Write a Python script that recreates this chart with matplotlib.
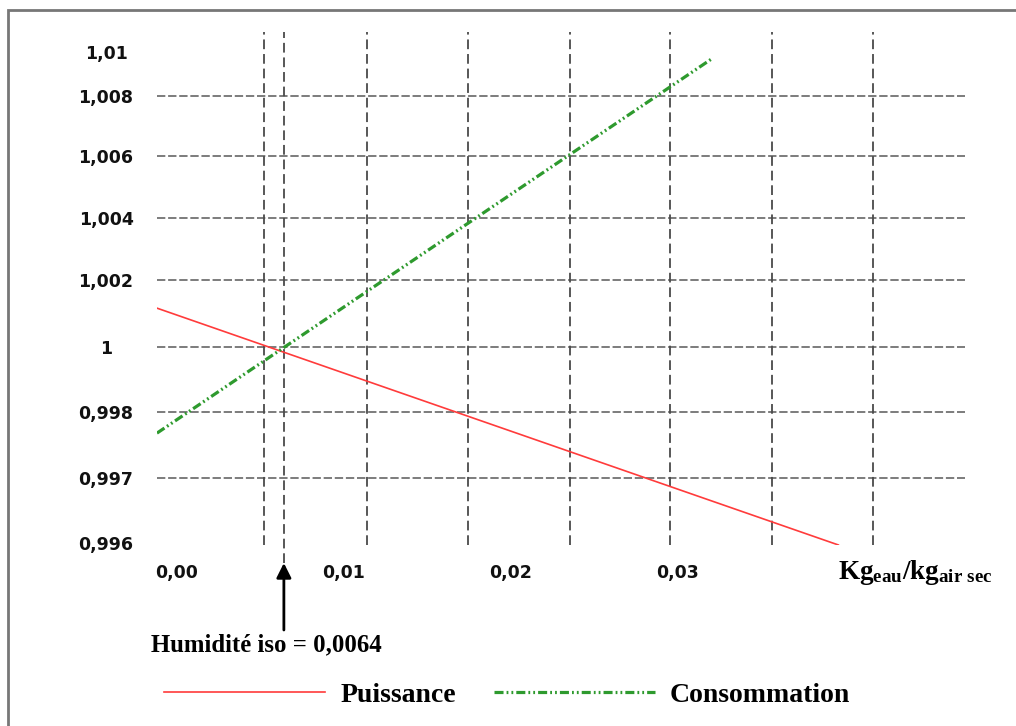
import numpy as np
import matplotlib
matplotlib.use('Agg')
import matplotlib.pyplot as plt
from matplotlib.patches import Rectangle

# data
humidite_iso = 0.0064
puissance_x = [-0.0012, 0.0396]
puissance_y = [1.00116, 0.99597]
consommation_x = [-0.0012, 0.0321]
consommation_y = [0.99768, 1.00973]

x_ticks = [0.00, 0.01, 0.02, 0.03]
x_labels = ['0,00', '0,01', '0,02', '0,03']
y_ticks = [0.996, 0.997, 0.998, 1.000, 1.002, 1.004, 1.006, 1.008, 1.01]
y_labels = ['0,996', '0,997', '0,998', '1', '1,002', '1,004', '1,006', '1,008', '1,01']

# the y axis of the original is not linear: tick spacing is even on screen
y_pos = [2, 67, 133, 198, 265, 327, 389, 449, 493]
yv = np.array([0.995] + y_ticks + [1.012])
yp = np.array([y_pos[0] - 65] + y_pos + [y_pos[-1] + 44])

def fwd(v):
    return np.interp(v, yv, yp)

def inv(p):
    return np.interp(p, yp, yv)

# vertical grid (as in the original, not on the tick values)
vgrid = [0.00521, 0.01138, 0.01743, 0.02353, 0.02952, 0.03563, 0.04168]

plt.rcParams['lines.scale_dashes'] = False
plt.rcParams['mathtext.fontset'] = 'custom'
plt.rcParams['mathtext.rm'] = 'Liberation Serif:bold'
plt.rcParams['mathtext.it'] = 'Liberation Serif:bold'
plt.rcParams['mathtext.bf'] = 'Liberation Serif:bold'

W, H = 1016, 726
fig = plt.figure(figsize=(W / 100, H / 100), dpi=100)
ax = fig.add_axes([157 / W, 1 - 545 / H, (965 - 157) / W, (545 - 32) / H])

ax.set_yscale('function', functions=(fwd, inv))
ax.set_xlim(-0.0011976, 0.047186)
ax.set_ylim(inv(0), inv(513))

for s in ax.spines.values():
    s.set_visible(False)

# horizontal grid
for v in y_ticks[1:-1]:
    ax.axhline(v, color='#666666', lw=1.2, dashes=(6, 2), zorder=1)
# vertical grid
for v in vgrid:
    ax.axvline(v, color='#4a4a4a', lw=1.3, dashes=(7, 3.5), zorder=1)
ax.axvline(humidite_iso, ymin=-18 / 513, ymax=1, color='#4a4a4a', lw=1.3,
           dashes=(7, 3.5), zorder=1, clip_on=False)

ax.plot(puissance_x, puissance_y, color='#ff3b3b', lw=1.2, label='Puissance', zorder=3)
ax.plot(consommation_x, consommation_y, color='#2e9a2e', lw=2.3,
        dashes=(6.5, 2.2, 1.3, 2.2, 1.3, 2.2), label='Consommation', zorder=3)

ax.set_xticks(x_ticks, x_labels, fontweight='bold', fontsize=12.5, color='#111111')
ax.set_yticks(y_ticks, y_labels, fontweight='bold', fontsize=12.5, color='#111111', ha='center')
ax.yaxis.set_minor_locator(matplotlib.ticker.NullLocator())
ax.xaxis.set_minor_locator(matplotlib.ticker.NullLocator())
ax.tick_params(axis='x', length=0, pad=14)
ax.tick_params(axis='y', length=0, pad=36.7)

# arrow for the iso humidity
ax.annotate('', xy=(humidite_iso, -18 / 513), xytext=(humidite_iso, -85 / 513),
            xycoords=('data', 'axes fraction'), textcoords=('data', 'axes fraction'),
            arrowprops=dict(arrowstyle='-|>', color='black', lw=2, mutation_scale=22,
                            shrinkA=0, shrinkB=0))

fig.text(151 / W, 1 - 645 / H, 'Humidité iso = 0,0064', family='Liberation Serif',
         fontweight='bold', fontsize=17.8, va='center', ha='left')
fig.text(838 / W, 1 - 579 / H, r'$\mathrm{Kg_{eau}/kg_{air\ sec}}$',
         fontsize=19.5, va='baseline', ha='left')

leg = ax.legend(loc='center left', bbox_to_anchor=(139 / W, 1 - 695 / H),
                bbox_transform=fig.transFigure, ncol=2, frameon=False,
                handlelength=5.8, handletextpad=0.55, columnspacing=1.35,
                prop={'family': 'Liberation Serif', 'weight': 'bold', 'size': 20})

# partial frame of the original image
fig.add_artist(Rectangle((8 / W, -1), 2, 2 - 10 / H, transform=fig.transFigure,
                         fill=False, edgecolor='#777777', lw=2))

fig.savefig('out.png', dpi=100)
